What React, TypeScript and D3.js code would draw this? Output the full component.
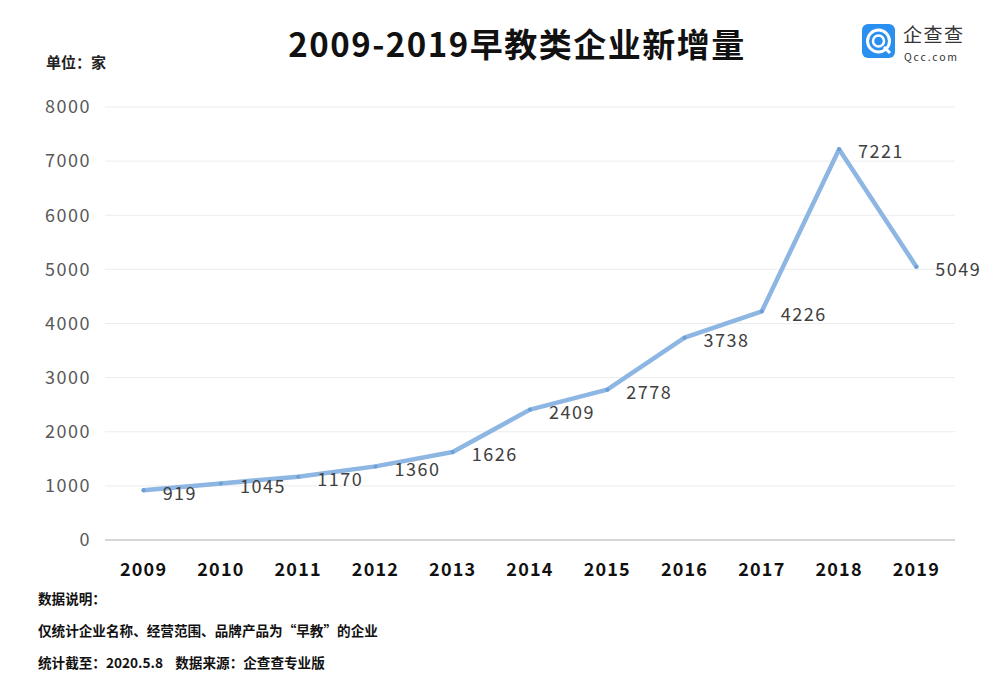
import React from "react";
import * as d3 from "d3";

const years = ["2009","2010","2011","2012","2013","2014","2015","2016","2017","2018","2019"];
const values = [919, 1045, 1170, 1360, 1626, 2409, 2778, 3738, 4226, 7221, 5049];
const yTicks = [0, 1000, 2000, 3000, 4000, 5000, 6000, 7000, 8000];
const title = "2009-2019早教类企业新增量";
const unitLabel = "单位：家";
const notes = ["数据说明：", "仅统计企业名称、经营范围、品牌产品为“早教”的企业", "统计截至：2020.5.8    数据来源：企查查专业版"];

const W = 1000, H = 691;
const left = 105, right = 955, top = 107, bottom = 540;
const font = "'Noto Sans CJK SC', 'Noto Sans', sans-serif";

export default function App() {
  const x = d3.scaleBand().domain(years).range([left, right]);
  const y = d3.scaleLinear().domain([0, 8000]).range([bottom, top]);
  const cx = (yr: string) => (x(yr) as number) + x.bandwidth() / 2;
  const line = d3.line<number>().x((_, i) => cx(years[i])).y(d => y(d));
  return (
    <svg width={W} height={H} style={{ position: "absolute", left: 0, top: 0, background: "#fff" }} fontFamily={font}>
      <rect width={W} height={H} fill="#fff" />
      <text x={517} y={57} textAnchor="middle" fontSize={33} fontWeight={700} fill="#111" letterSpacing={1.5}>{title}</text>
      <text x={46} y={68} fontSize={15} fontWeight={700} fill="#222">{unitLabel}</text>
      {/* logo */}
      <g>
        <rect x={862} y={24} width={33} height={34} rx={6} fill="#2a90f0" />
        <circle cx={878.5} cy={41} r={11} fill="none" stroke="#fff" strokeWidth={3} />
        <circle cx={878.5} cy={41} r={5.5} fill="none" stroke="#fff" strokeWidth={2.5} />
        <line x1={884} y1={47} x2={890} y2={53} stroke="#fff" strokeWidth={3} />
        <text x={903} y={42} fontSize={19} fill="#333" letterSpacing={1.5}>企查查</text>
        <text x={904} y={61} fontSize={10.5} fill="#333" letterSpacing={1.8}>Qcc.com</text>
      </g>
      {yTicks.map(t => (
        <g key={t}>
          {t > 0 && <line x1={left} x2={right} y1={y(t)} y2={y(t)} stroke="#ececec" strokeWidth={1} />}
          <text x={91} y={y(t)} dy="0.35em" textAnchor="end" fontSize={18} fill="#595959" letterSpacing={1.5}>{t}</text>
        </g>
      ))}
      <line x1={left} x2={right} y1={bottom} y2={bottom} stroke="#c8c8c8" strokeWidth={1.5} />
      {years.map(yr => (
        <text key={yr} x={cx(yr)} y={570} dy="0.35em" textAnchor="middle" fontSize={18} fontWeight={700} fill="#111" letterSpacing={1.2}>{yr}</text>
      ))}
      <path d={line(values) || ""} fill="none" stroke="#8db6e3" strokeWidth={4.5} strokeLinejoin="round" strokeLinecap="round" />
      {values.map((v, i) => (
        <circle key={i} cx={cx(years[i])} cy={y(v)} r={2} fill="#6a9fd8" />
      ))}
      {values.map((v, i) => (
        <text key={"l" + i} x={cx(years[i]) + 19} y={y(v) + 3} dy="0.35em" fontSize={18} fill="#404040" letterSpacing={1.5}>{v}</text>
      ))}
      {notes.map((n, i) => (
        <text key={n} x={38} y={599 + i * 32} dy="0.35em" fontSize={13.6} fontWeight={700} fill="#111" xmlSpace="preserve">{n}</text>
      ))}
    </svg>
  );
}
